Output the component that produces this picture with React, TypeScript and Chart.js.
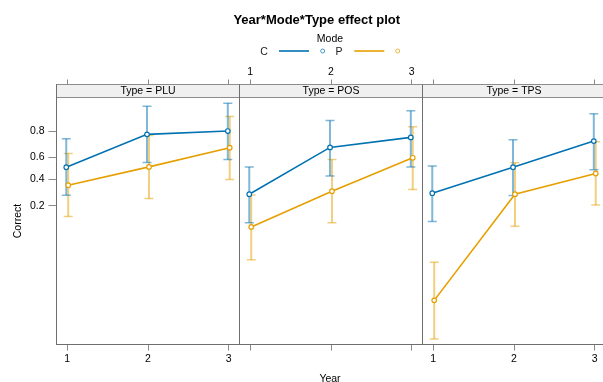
import React, { useEffect, useRef } from 'react';
import { Chart, registerables } from 'chart.js';

Chart.register(...registerables);

const W = 603;
const H = 382;

// ---- data (probabilities) ----
const years = [1, 2, 3];
const xTickLabels = ['1', '2', '3'];
const panelTypes = ['PLU', 'POS', 'TPS'];
const modeLabels = ['C', 'P'];
const yTickProbs = [0.2, 0.4, 0.6, 0.8];
const yTickLabels = ['0.2', '0.4', '0.6', '0.8'];

const PLU_C_fit = [0.512, 0.78, 0.8];
const PLU_C_lower = [0.27, 0.555, 0.583];
const PLU_C_upper = [0.75, 0.909, 0.918];
const PLU_P_fit = [0.35, 0.515, 0.683];
const PLU_P_lower = [0.144, 0.247, 0.4];
const PLU_P_upper = [0.636, 0.773, 0.873];

const POS_C_fit = [0.278, 0.686, 0.76];
const POS_C_lower = [0.118, 0.432, 0.515];
const POS_C_upper = [0.515, 0.856, 0.895];
const POS_P_fit = [0.103, 0.301, 0.598];
const POS_P_lower = [0.033, 0.118, 0.314];
const POS_P_upper = [0.273, 0.583, 0.825];

const TPS_C_fit = [0.286, 0.512, 0.734];
const TPS_C_lower = [0.123, 0.269, 0.488];
const TPS_C_upper = [0.524, 0.743, 0.884];
const TPS_P_fit = [0.0075, 0.278, 0.454];
const TPS_P_lower = [0.0018, 0.105, 0.206];
const TPS_P_upper = [0.03, 0.552, 0.729];

const panelSeries = [
  { C: [PLU_C_fit, PLU_C_lower, PLU_C_upper], P: [PLU_P_fit, PLU_P_lower, PLU_P_upper] },
  { C: [POS_C_fit, POS_C_lower, POS_C_upper], P: [POS_P_fit, POS_P_lower, POS_P_upper] },
  { C: [TPS_C_fit, TPS_C_lower, TPS_C_upper], P: [TPS_P_fit, TPS_P_lower, TPS_P_upper] },
];

// ---- styling / layout ----
const FONT = "'Liberation Sans', Arial, Helvetica, sans-serif";
const BLUE = '#0072B2';
const ORANGE = '#E69F00';
const BLUE_CI = 'rgba(0,114,178,0.5)';
const ORANGE_CI = 'rgba(230,159,0,0.5)';
const FRAME = '#6e6e6e';
const TICK = '#8a8a8a';
const MODE_COLORS = [BLUE, ORANGE];
const MODE_CI = [BLUE_CI, ORANGE_CI];
const MODE_DODGE = [-0.012, 0.012];

const PANEL_LEFTS = [56.5, 239.5, 422.5];
const PANEL_W = 183;
const PANEL_TOP = 97.5;
const PANEL_BOTTOM = 344.5;
const STRIP_H = 13;
const TOP_PAD = 60;

const X_MIN = 0.867;
const X_MAX = 3.133;
const Y_MIN = -6.52;
const Y_MAX = 2.63;

const logit = (p: number) => Math.log(p / (1 - p));

const framePlugin = {
  id: 'frame',
  afterDraw(chart: any, _args: any, opts: any) {
    const { ctx, chartArea } = chart;
    const { left, top, bottom } = chartArea;
    const right = opts.right ?? chartArea.right;
    ctx.save();
    ctx.lineWidth = 1;
    ctx.strokeStyle = FRAME;
    ctx.strokeRect(left, top, right - left, bottom - top);
    const sTop = top - STRIP_H;
    ctx.fillStyle = '#f0f0f0';
    ctx.fillRect(left, sTop, right - left, STRIP_H);
    ctx.strokeStyle = '#8c8c8c';
    ctx.strokeRect(left, sTop, right - left, STRIP_H);
    ctx.strokeStyle = FRAME;
    ctx.beginPath();
    ctx.moveTo(left, sTop);
    ctx.lineTo(left, bottom);
    ctx.stroke();
    ctx.fillStyle = '#000';
    ctx.font = `10.5px ${FONT}`;
    ctx.textAlign = 'center';
    ctx.textBaseline = 'middle';
    ctx.fillText(opts.label, (left + right) / 2, sTop + STRIP_H / 2 + 0.5);
    ctx.restore();
  },
};

function makeConfig(i: number): any {
  const series = panelSeries[i];
  const datasets: any[] = [];
  modeLabels.forEach((m, k) => {
    const [fit] = (series as any)[m];
    datasets.push({
      type: 'line',
      label: m,
      data: years.map((yr, j) => ({ x: yr + MODE_DODGE[k], y: logit(fit[j]) })),
      borderColor: MODE_COLORS[k],
      borderWidth: 1.6,
      pointRadius: 2.3,
      pointBorderWidth: 1.2,
      pointBackgroundColor: '#ffffff',
      pointBorderColor: MODE_COLORS[k],
      tension: 0,
      order: 0,
      xAxisID: 'x',
      yAxisID: 'y',
    });
  });
  modeLabels.forEach((m, k) => {
    const [, lo, hi] = (series as any)[m];
    datasets.push({
      type: 'line',
      label: m + ' CI',
      data: years.flatMap((yr, j) => [
        { x: yr + MODE_DODGE[k], y: logit(lo[j]) },
        { x: yr + MODE_DODGE[k], y: logit(hi[j]) },
        { x: yr + MODE_DODGE[k], y: null },
      ]),
      borderColor: MODE_CI[k],
      borderWidth: 2,
      pointStyle: 'line',
      pointRadius: 4.5,
      pointBorderWidth: 1.5,
      pointBorderColor: MODE_CI[k],
      spanGaps: false,
      order: 1,
      xAxisID: 'x',
      yAxisID: 'y',
    });
  });

  const showBottom = i !== 1;
  const showTop = i === 1;
  const panelLeft = PANEL_LEFTS[i];
  const isLast = i === panelTypes.length - 1;
  const pxPerUnit = PANEL_W / (X_MAX - X_MIN);
  const visibleW = isLast ? W - panelLeft : PANEL_W;
  const xMax = X_MIN + visibleW / pxPerUnit;
  const yAxisW = i === 0 ? panelLeft : 0;

  const xTickBase = {
    display: true,
    font: { family: FONT, size: 10.5 },
    maxRotation: 0,
    autoSkip: false,
    callback: (_v: any, idx: number) => xTickLabels[idx],
  };

  return {
    type: 'line',
    data: { datasets },
    options: {
      responsive: false,
      animation: false,
      devicePixelRatio: 1,
      events: [],
      layout: {
        autoPadding: false,
        padding: {
          left: panelLeft - yAxisW,
          right: W - (panelLeft + visibleW),
          top: TOP_PAD,
          bottom: 0,
        },
      },
      plugins: {
        legend: { display: false },
        tooltip: { enabled: false },
        title: { display: false },
        frame: { label: `Type = ${panelTypes[i]}`, right: panelLeft + PANEL_W },
      },
      scales: {
        x: {
          type: 'linear',
          position: 'bottom',
          min: X_MIN,
          max: xMax,
          bounds: 'data',
          afterFit: (s: any) => {
            s.height = H - PANEL_BOTTOM;
            s.paddingLeft = 0;
            s.paddingRight = 0;
          },
          afterBuildTicks: (s: any) => { s.ticks = years.map((v) => ({ value: v })); },
          grid: { display: true, drawOnChartArea: false, drawTicks: true, tickLength: 6, tickColor: TICK, tickWidth: 1 },
          border: { display: false },
          ticks: { ...xTickBase, color: showBottom ? '#000' : 'rgba(0,0,0,0)', padding: 2 },
        },
        x2: {
          type: 'linear',
          axis: 'x',
          position: 'top',
          min: X_MIN,
          max: xMax,
          bounds: 'data',
          afterFit: (s: any) => {
            s.height = PANEL_TOP - TOP_PAD;
            s.paddingLeft = 0;
            s.paddingRight = 0;
          },
          afterBuildTicks: (s: any) => { s.ticks = years.map((v) => ({ value: v })); },
          grid: { display: true, drawOnChartArea: false, drawTicks: true, tickLength: 18, tickColor: TICK, tickWidth: 1 },
          border: { display: false },
          ticks: { ...xTickBase, color: showTop ? '#000' : 'rgba(0,0,0,0)', padding: 1 },
        },
        y: {
          type: 'linear',
          position: 'left',
          display: i === 0,
          min: Y_MIN,
          max: Y_MAX,
          bounds: 'data',
          afterFit: (s: any) => {
            s.width = yAxisW;
            s.paddingTop = 0;
            s.paddingBottom = 0;
          },
          afterBuildTicks: (s: any) => { s.ticks = yTickProbs.map((p) => ({ value: logit(p) })); },
          grid: { display: true, drawOnChartArea: false, drawTicks: true, tickLength: 8, tickColor: TICK, tickWidth: 1 },
          border: { display: false },
          ticks: {
            font: { family: FONT, size: 10.5 },
            color: '#000',
            padding: 4,
            autoSkip: false,
            callback: (_v: any, idx: number) => yTickLabels[idx],
          },
        },
      },
    },
    plugins: [framePlugin],
  };
}

function Panel({ index }: { index: number }) {
  const ref = useRef<HTMLCanvasElement | null>(null);
  useEffect(() => {
    if (!ref.current) return;
    const chart = new Chart(ref.current, makeConfig(index));
    return () => chart.destroy();
  }, [index]);
  return (
    <canvas
      ref={ref}
      width={W}
      height={H}
      style={{ position: 'absolute', left: 0, top: 0, width: W, height: H }}
    />
  );
}

export default function App() {
  return (
    <div
      style={{
        position: 'fixed',
        left: 0,
        top: 0,
        width: W,
        height: H,
        background: '#ffffff',
        overflow: 'hidden',
      }}
    >
      {panelTypes.map((_t, i) => (
        <Panel key={i} index={i} />
      ))}
      <svg
        width={W}
        height={H}
        style={{ position: 'absolute', left: 0, top: 0, pointerEvents: 'none' }}
        fontFamily={FONT}
      >
        <text x={316.7} y={19} textAnchor="middle" dominantBaseline="central" fontSize={13} fontWeight="bold" fill="#000">
          Year*Mode*Type effect plot
        </text>
        <text x={330} y={38} textAnchor="middle" dominantBaseline="central" fontSize={10.5} fill="#000">
          Mode
        </text>
        <text x={264} y={51} textAnchor="middle" dominantBaseline="central" fontSize={10.5} fill="#222">
          {modeLabels[0]}
        </text>
        <line x1={279} y1={51} x2={309} y2={51} stroke={BLUE} strokeWidth={1.6} />
        <circle cx={322.7} cy={51} r={2} fill="none" stroke={BLUE} strokeOpacity={0.7} strokeWidth={1} />
        <text x={339} y={51} textAnchor="middle" dominantBaseline="central" fontSize={10.5} fill="#222">
          {modeLabels[1]}
        </text>
        <line x1={354.3} y1={51} x2={384.3} y2={51} stroke={ORANGE} strokeWidth={1.6} />
        <circle cx={397.7} cy={51} r={2} fill="none" stroke={ORANGE} strokeOpacity={0.7} strokeWidth={1} />
        <text
          x={16.7}
          y={221}
          textAnchor="middle"
          dominantBaseline="central"
          fontSize={10.5}
          fill="#000"
          transform="rotate(-90 16.7 221)"
        >
          Correct
        </text>
        <text x={330} y={378} textAnchor="middle" dominantBaseline="central" fontSize={10.5} fill="#000">
          Year
        </text>
      </svg>
    </div>
  );
}
